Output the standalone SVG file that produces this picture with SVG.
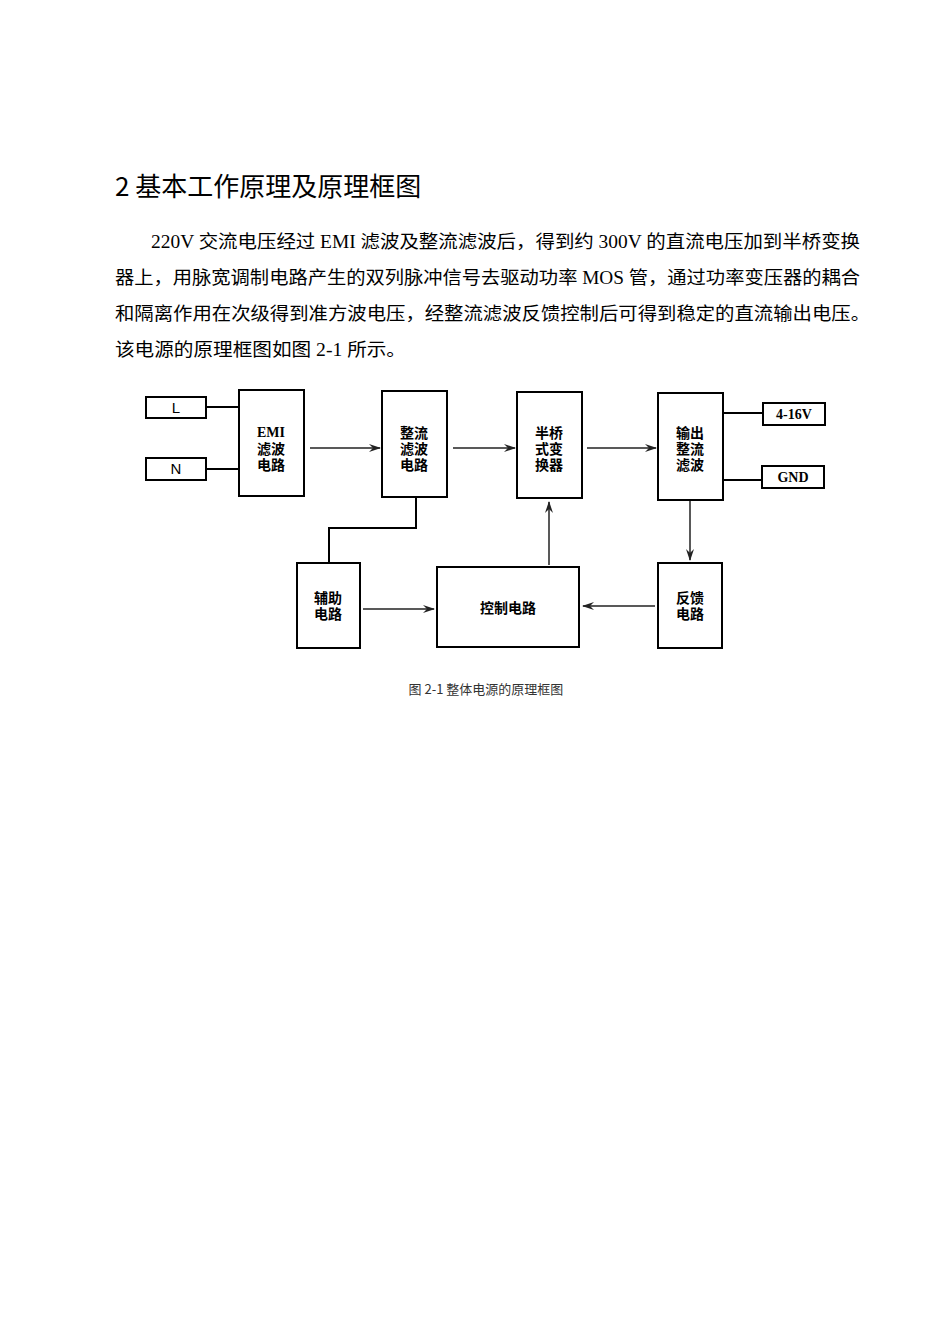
<svg xmlns="http://www.w3.org/2000/svg" width="950" height="1344" viewBox="0 0 950 1344">
<style>
.t{font-family:"Liberation Serif","Noto Sans CJK SC",serif;fill:#000}
.b{fill:#fff;stroke:#000;stroke-width:2}
.l{stroke:#000;stroke-width:2;fill:none}
.a{stroke:#222;stroke-width:1.5;fill:none;marker-end:url(#ar)}
.n{font-family:"Noto Sans CJK SC",serif;font-weight:bold;font-size:14px;text-anchor:middle}
.e{font-family:"Liberation Serif",serif;font-weight:bold;font-size:14px;text-anchor:middle}
</style>
<defs><marker id="ar" markerWidth="12" markerHeight="8" refX="11" refY="4" orient="auto" markerUnits="userSpaceOnUse"><path d="M0,0 L12,4 L0,8 L4,4 z" fill="#222"/></marker></defs>
<rect width="950" height="1344" fill="#fff"/>
<text class="t" x="115" y="196" style="font-family:'Noto Sans CJK SC',sans-serif" font-size="26">2 基本工作原理及原理框图</text>
<g class="t" font-size="18">
<text x="151" y="248" textLength="709" lengthAdjust="spacingAndGlyphs">220V 交流电压经过 EMI 滤波及整流滤波后，得到约 300V 的直流电压加到半桥变换</text>
<text x="115" y="284" textLength="745" lengthAdjust="spacingAndGlyphs">器上，用脉宽调制电路产生的双列脉冲信号去驱动功率 MOS 管，通过功率变压器的耦合</text>
<text x="115" y="320" textLength="755" lengthAdjust="spacingAndGlyphs">和隔离作用在次级得到准方波电压，经整流滤波反馈控制后可得到稳定的直流输出电压。</text>
<text x="115" y="356" textLength="291" lengthAdjust="spacingAndGlyphs">该电源的原理框图如图 2-1 所示。</text>
</g>
<g id="connectors">
<path class="l" d="M206,407H239M206,469H239M723,413H763M723,480H762M416,497V528H329V563"/>
<path class="a" d="M310,448H380"/>
<path class="a" d="M453,448H515"/>
<path class="a" d="M587,448H656"/>
<path class="a" d="M690,500V560"/>
<path class="a" d="M655,606H583"/>
<path class="a" d="M363,609H434"/>
<path class="a" d="M549,565V502"/>
</g>
<g id="L"><rect class="b" x="146" y="397" width="60" height="21"/><text x="176" y="413" font-family="Liberation Sans,sans-serif" font-size="15" text-anchor="middle">L</text></g>
<g id="N"><rect class="b" x="146" y="458" width="60" height="22"/><text x="176" y="474" font-family="Liberation Sans,sans-serif" font-size="15" text-anchor="middle">N</text></g>
<g id="emi"><rect class="b" x="239" y="390" width="65" height="106"/><text class="e" x="271" y="437">EMI</text><text class="n" x="271" y="454">滤波</text><text class="n" x="271" y="470">电路</text></g>
<g id="rect"><rect class="b" x="382" y="391" width="65" height="106"/><text class="n" x="414" y="438">整流</text><text class="n" x="414" y="454">滤波</text><text class="n" x="414" y="470">电路</text></g>
<g id="half"><rect class="b" x="517" y="392" width="65" height="106"/><text class="n" x="549" y="438">半桥</text><text class="n" x="549" y="454">式变</text><text class="n" x="549" y="470">换器</text></g>
<g id="out"><rect class="b" x="658" y="393" width="65" height="107"/><text class="n" x="690" y="438">输出</text><text class="n" x="690" y="454">整流</text><text class="n" x="690" y="470">滤波</text></g>
<g id="v"><rect class="b" x="763" y="403" width="62" height="22"/><text class="e" x="794" y="419">4-16V</text></g>
<g id="gnd"><rect class="b" x="762" y="466" width="62" height="22"/><text class="e" x="793" y="482">GND</text></g>
<g id="aux"><rect class="b" x="297" y="563" width="63" height="85"/><text class="n" x="328" y="603">辅助</text><text class="n" x="328" y="619">电路</text></g>
<g id="ctrl"><rect class="b" x="437" y="567" width="142" height="80"/><text class="n" x="508" y="613">控制电路</text></g>
<g id="fb"><rect class="b" x="658" y="563" width="64" height="85"/><text class="n" x="690" y="603">反馈</text><text class="n" x="690" y="619">电路</text></g>
<text x="486" y="694" font-family="Noto Sans CJK SC,serif" font-size="13" text-anchor="middle" fill="#333">图 2-1 整体电源的原理框图</text>
</svg>
